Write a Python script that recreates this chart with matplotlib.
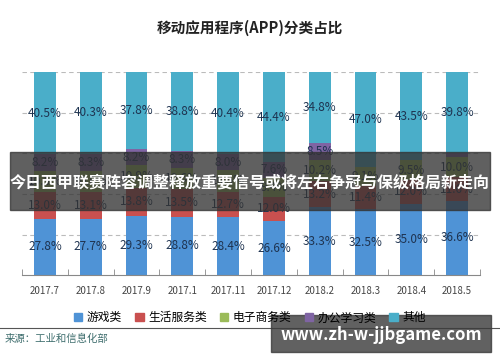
import matplotlib
matplotlib.use('Agg')
import matplotlib.pyplot as plt
from matplotlib.patches import Rectangle, Patch
import numpy as np

plt.rcParams['font.family'] = ['Noto Sans CJK SC', 'DejaVu Sans']

months = ['2017.7', '2017.8', '2017.9', '2017.1', '2017.11', '2017.12',
          '2018.2', '2018.3', '2018.4', '2018.5']
game = [27.8, 27.7, 29.3, 28.8, 28.4, 26.6, 33.3, 32.5, 35.0, 36.6]
life = [13.0, 13.1, 13.8, 13.5, 12.7, 12.0, 13.2, 11.4, 12.0, 11.6]
ecom = [10.5, 10.6, 10.9, 10.6, 10.5, 9.4, 10.2, 9.1, 9.5, 10.0]
office = [8.2, 8.3, 8.2, 8.3, 8.0, 7.6, 8.5, 0.0, 0.0, 2.0]
other = [40.5, 40.3, 37.8, 38.8, 40.4, 44.4, 34.8, 47.0, 43.5, 39.8]

names = ['游戏类', '生活服务类', '电子商务类', '办公学习类', '其他']
colors = ['#4f93d6', '#c9504f', '#9bbb59', '#7f64a3', '#4aaec9']
series = [game, life, ecom, office, other]

fig = plt.figure(figsize=(5, 3.62), dpi=100)
ax = fig.add_axes([0.044, 0.240, 0.916, 0.561])

x = np.arange(len(months))
bottom = np.zeros(len(months))
for vals, c in zip(series, colors):
    v = np.array(vals)
    ax.bar(x, v, bottom=bottom, width=0.48, color=c, zorder=2)
    for xi, b, h in zip(x, bottom, v):
        if h >= 5:
            ax.text(xi, b + h / 2, f'{h:.1f}%', ha='center', va='center',
                    fontsize=8.5, color='#1e3350', zorder=3)
    bottom += v

ax.set_xlim(-0.5, 9.5)
ax.set_ylim(0, 100)
ax.set_yticks([])
for yy in [20, 40, 60, 80, 100]:
    ax.axhline(yy, color='#bbbbbb', lw=0.8, ls=(0, (4, 3)), zorder=1)
for s in ['top', 'right', 'left']:
    ax.spines[s].set_visible(False)
ax.spines['bottom'].set_color('#888888')
ax.set_xticks(x)
ax.set_xticklabels(months, fontsize=7, color='#444444')
ax.tick_params(axis='x', length=0, pad=8)
ax.set_xticks(np.arange(-0.5, 10, 1), minor=True)
ax.tick_params(axis='x', which='minor', length=4, color='#888888', direction='in')

fig.text(0.5, 0.922, '移动应用程序(APP)分类占比', ha='center', va='center',
         fontsize=10.5, fontweight='bold', color='#222222')

handles = [Patch(color=c) for c in colors]
fig.legend(handles, names, loc='center', bbox_to_anchor=(0.5, 0.122), ncol=5,
           frameon=False, fontsize=8.5, handlelength=0.7, handleheight=0.7,
           handletextpad=0.4, columnspacing=1.1)

fig.add_artist(plt.Line2D([0.0, 1.0], [0.095, 0.095], color='#555555', lw=0.8))
fig.text(0.01, 0.063, '来源：工业和信息化部', ha='left', va='center',
         fontsize=7.5, color='#3f6e6e')

# overlay band
fig.add_artist(Rectangle((0.02, 1 - 210 / 362), 0.96, 58 / 362,
                         transform=fig.transFigure, color='#333333', alpha=0.78,
                         zorder=5))
fig.text(0.5, 1 - 183 / 362, '今日西甲联赛阵容调整释放重要信号或将左右争冠与保级格局新走向',
         ha='center', va='center', fontsize=11.5, fontweight='bold',
         color='white', zorder=6)

# watermark
fig.add_artist(Rectangle((271 / 500, 1 - 352 / 362), 220 / 500, 37 / 362,
                         transform=fig.transFigure, color='#3a3a3a', alpha=0.8,
                         zorder=5))
fig.text(381 / 500, 1 - 335 / 362, 'www.zh-w-jjbgame.com', ha='center',
         va='center', fontsize=12, fontweight='bold', color='white', zorder=6)

fig.savefig('out.png', dpi=100)
